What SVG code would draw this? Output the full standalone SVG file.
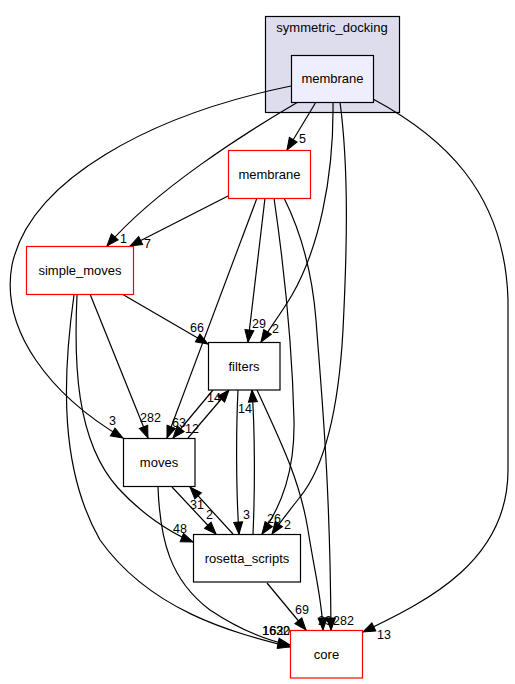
<svg xmlns="http://www.w3.org/2000/svg" width="515" height="684" viewBox="0 0 515 684">
<style>
.n text{font-family:"Liberation Sans",Arial,sans-serif;font-size:13px;text-anchor:middle;fill:#000}
.n rect{stroke-width:1.2}
.e path{fill:none;stroke:#000;stroke-width:1.2;marker-end:url(#a)}
.l text{font-family:"Liberation Sans",Arial,sans-serif;font-size:12.5px;fill:#000}
.w{fill:#fff;stroke:#000}
.r{fill:#fff;stroke:#ff0000}
</style>
<defs>
<marker id="a" markerWidth="14" markerHeight="12" refX="12" refY="5" orient="auto" markerUnits="userSpaceOnUse" overflow="visible"><path d="M0,0.5 L12,5 L0,9.5 z" fill="#000" stroke="#000" stroke-width="1"/></marker>
</defs>
<rect width="515" height="684" fill="#fff"/>
<g id="cluster_symmetric_docking" class="n">
<rect x="265.5" y="16.5" width="134" height="96" fill="#ddddee" stroke="#000"/>
<text x="332" y="32">symmetric_docking</text>
</g>
<g id="connectors" class="e">
<path d="M316,102 L287,150"/>
<path d="M298,102 C245,133 155,190 107,246"/>
<path d="M228,196 L130,246"/>
<path d="M291,86 C150,115 30,180 12,265 C0,330 50,395 123,438"/>
<path d="M333,102 C334,180 318,250 292,295 C282,312 270,328 261,342"/>
<path d="M340,102 C349,170 347,250 343,330 C338,420 322,470 300,497 C290,510 281,521 272,534"/>
<path d="M373,99 C440,135 505,190 508,300 L508,470 C508,560 430,600 363,632"/>
<path d="M265,198 L248,342"/>
<path d="M257,198 L167,438"/>
<path d="M274,198 C283,260 292,340 294,420 C295,470 282,505 262,534"/>
<path d="M284,198 C300,230 312,270 316,320 C322,400 330,480 331,630"/>
<path d="M122,294 L208,344"/>
<path d="M90,294 L148,438"/>
<path d="M77,295 C74,360 75,440 118,488 C140,512 168,532 193,542"/>
<path d="M74,295 C62,380 60,470 100,540 C150,610 230,632 290,647"/>
<path d="M188,438 L229,390"/>
<path d="M213,390 L173,438"/>
<path d="M172,487 L216,534"/>
<path d="M233,534 L190,487"/>
<path d="M238,390 C236,430 236,490 239,534"/>
<path d="M253,534 C255,490 255,430 252,390"/>
<path d="M257,390 C280,440 300,480 308,530 C316,580 322,600 323,630"/>
<path d="M158,487 C160,540 170,580 210,610 C240,630 265,640 290,645"/>
<path d="M267,583 L306,630"/>
</g>
<g id="edge_labels" class="l">
<text x="299" y="143">5</text>
<text x="120" y="243">1</text>
<text x="144" y="248">7</text>
<text x="109" y="425">3</text>
<text x="272" y="333">2</text>
<text x="284" y="529">2</text>
<text x="377" y="639">13</text>
<text x="252" y="328">29</text>
<text x="172" y="427">63</text>
<text x="267" y="523">26</text>
<text x="318" y="625">29</text>
<text x="190" y="332">66</text>
<text x="140" y="422">282</text>
<text x="173" y="533">48</text>
<text x="262" y="635">1632</text>
<text x="207" y="402">14</text>
<text x="185" y="433">12</text>
<text x="206" y="519">2</text>
<text x="190" y="509">31</text>
<text x="243" y="519">3</text>
<text x="238" y="413">14</text>
<text x="333" y="625">282</text>
<text x="262.5" y="635">1620</text>
<text x="295" y="614">69</text>
</g>
<g id="node_membrane_top" class="n">
<rect x="291.5" y="55.5" width="82" height="47" fill="#eeeeff" stroke="#000"/>
<text x="332.5" y="83">membrane</text>
</g>
<g id="node_membrane" class="n">
<rect x="228.5" y="150.5" width="82" height="48" class="r"/>
<text x="269.5" y="179">membrane</text>
</g>
<g id="node_simple_moves" class="n">
<rect x="26.5" y="246.5" width="107" height="48" class="r"/>
<text x="80" y="275">simple_moves</text>
</g>
<g id="node_filters" class="n">
<rect x="208.5" y="342.5" width="71.5" height="47.5" class="w"/>
<text x="244" y="370.5">filters</text>
</g>
<g id="node_moves" class="n">
<rect x="123.5" y="438.5" width="71.5" height="48" class="w"/>
<text x="159" y="467">moves</text>
</g>
<g id="node_rosetta_scripts" class="n">
<rect x="193.5" y="534.5" width="107" height="47.5" class="w"/>
<text x="247" y="562.5">rosetta_scripts</text>
</g>
<g id="node_core" class="n">
<rect x="290.5" y="630.5" width="72" height="47.5" class="r"/>
<text x="326.5" y="658.5">core</text>
</g>
</svg>
